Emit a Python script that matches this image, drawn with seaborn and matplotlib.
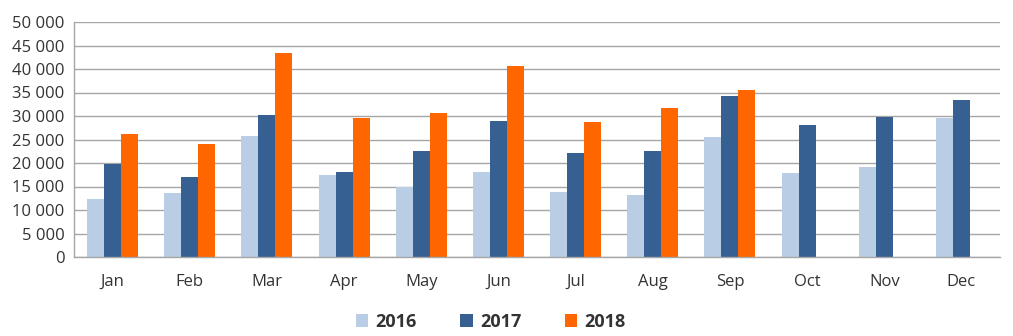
import numpy as np
import pandas as pd
import matplotlib
matplotlib.use("Agg")
import matplotlib.pyplot as plt
import seaborn as sns
from matplotlib.ticker import FuncFormatter, FixedLocator

months = ["Jan", "Feb", "Mar", "Apr", "May", "Jun", "Jul", "Aug", "Sep", "Oct", "Nov", "Dec"]
years = ["2016", "2017", "2018"]
v2016 = [12300, 13600, 25700, 17400, 14800, 18000, 13800, 13200, 25500, 17900, 19100, 29600]
v2017 = [19800, 17000, 30200, 18100, 22600, 29000, 22100, 22600, 34300, 28100, 29700, 33500]
v2018 = [26100, 24000, 43500, 29600, 30600, 40600, 28700, 31600, 35500, np.nan, np.nan, np.nan]
colors = ["#B9CDE5", "#376092", "#FF6600"]

df = pd.DataFrame({
    "month": months * 3,
    "year": [y for y in years for _ in months],
    "value": v2016 + v2017 + v2018,
})

sns.set_style("white")
plt.rcParams["font.family"] = ["Open Sans", "DejaVu Sans"]

fig = plt.figure(figsize=(10.13, 3.36), dpi=100)
ax = fig.add_axes([74 / 1013, 1 - 257 / 336, (1000 - 74) / 1013, (257 - 22) / 336])

sns.barplot(data=df, x="month", y="value", hue="year", order=months, hue_order=years,
            palette=colors, width=0.66, gap=0, saturation=1, ax=ax, legend=True,
            edgecolor="none", linewidth=0)

ax.set_ylim(0, 50000)
ax.set_xlim(-0.5, 11.5)
ax.set_yticks(np.arange(0, 50001, 5000))
ax.yaxis.set_major_formatter(FuncFormatter(lambda v, p: f"{int(v):,}".replace(",", " ")))
ax.set_axisbelow(True)
ax.yaxis.grid(True, color="#A6A6A6", linewidth=1.0)
ax.xaxis.grid(False)
for s in ["top", "right"]:
    ax.spines[s].set_visible(False)
for s in ["left", "bottom"]:
    ax.spines[s].set_color("#A6A6A6")
    ax.spines[s].set_linewidth(1.0)
ax.set_xlabel("")
ax.set_ylabel("")
ax.tick_params(axis="y", length=4, color="#A6A6A6", labelsize=12, labelcolor="#333333", pad=3)
ax.tick_params(axis="x", which="major", length=0, labelsize=12, labelcolor="#333333", pad=12)
ax.xaxis.set_minor_locator(FixedLocator(np.arange(-0.5, 12, 1.0)))
ax.tick_params(axis="x", which="minor", length=5, color="#A6A6A6", direction="out")

leg = ax.legend(loc="center", bbox_to_anchor=(0.45, -0.275), ncol=3, frameon=False,
                handlelength=0.7, handleheight=0.7, handletextpad=0.4, columnspacing=2.4,
                prop={"weight": "bold", "size": 13})
for t in leg.get_texts():
    t.set_color("#333333")

fig.savefig("out.png", dpi=100)
